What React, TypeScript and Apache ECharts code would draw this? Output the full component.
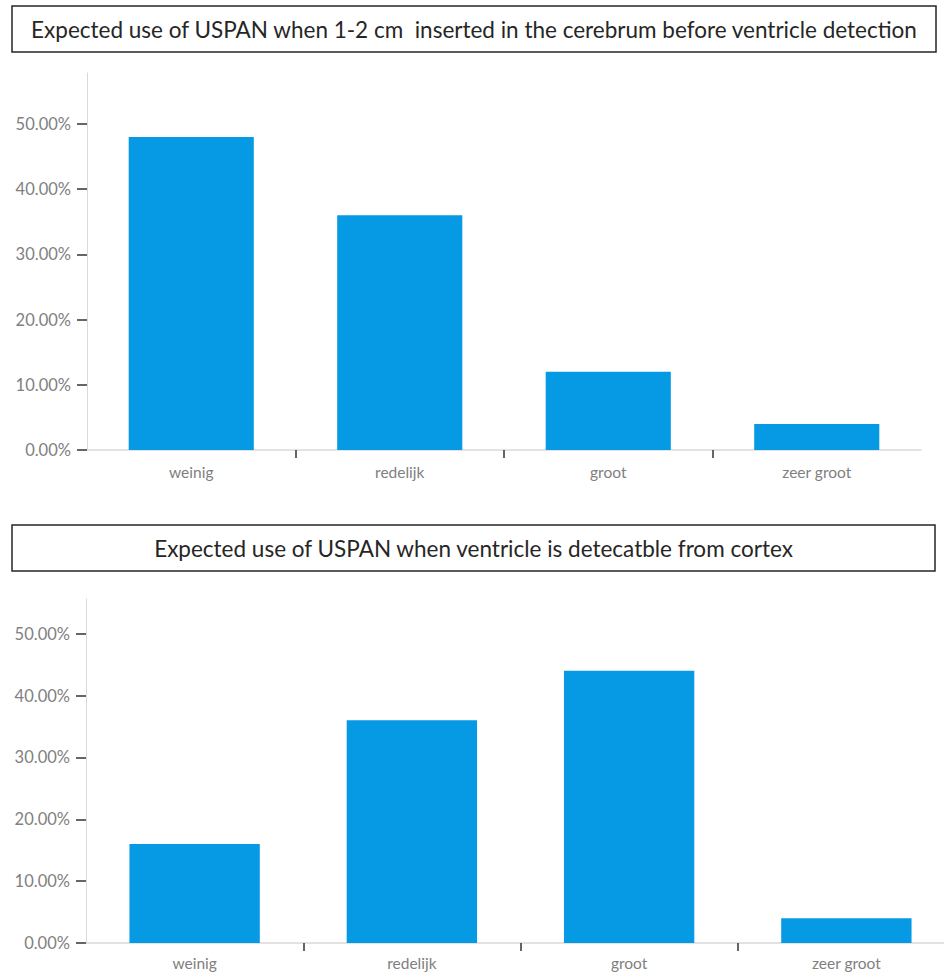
import React, { useEffect, useRef } from "react";
import * as echarts from "echarts";

// Categories and percentages for both survey questions
const categories = ["weinig", "redelijk", "groot", "zeer groot"];
const insertedValues = [48, 36, 12, 4];
const detectableValues = [16, 36, 44, 4];
const yTicks = [0, 10, 20, 30, 40, 50];
const titleTop = "Expected use of USPAN when 1-2 cm  inserted in the cerebrum before ventricle detection";
const titleBottom = "Expected use of USPAN when ventricle is detecatble from cortex";

const BAR_COLOR = "#059ae3";
const LABEL_COLOR = "#808080";
const AXIS_LINE = "#d9d9d9";
const TICK_COLOR = "#333333";
const FONT = "Lato, 'Noto Sans', sans-serif";

function yAxisFor(gridIndex: number, max: number) {
  return {
    type: "value",
    gridIndex,
    min: 0,
    max,
    interval: 10,
    axisLine: { show: true, lineStyle: { color: AXIS_LINE, width: 1 } },
    axisTick: { show: true, length: 10, customValues: yTicks, lineStyle: { color: TICK_COLOR, width: 1.5 } },
    axisLabel: {
      customValues: yTicks,
      margin: 16,
      color: LABEL_COLOR,
      fontFamily: FONT,
      fontSize: 16.5,
      formatter: (v: number) => v.toFixed(2) + "%",
    },
    splitLine: { show: false },
  };
}

function categoryAxisFor(gridIndex: number, margin: number) {
  return {
    type: "category",
    gridIndex,
    data: categories,
    axisLine: { show: true, lineStyle: { color: AXIS_LINE, width: 1.5 } },
    axisTick: { show: false },
    axisLabel: { margin, color: LABEL_COLOR, fontFamily: FONT, fontSize: 15.5 },
  };
}

// Boundary ticks between categories only (no tick at either end)
function boundaryAxisFor(gridIndex: number) {
  return {
    type: "value",
    gridIndex,
    position: "bottom",
    min: 0,
    max: categories.length,
    axisLine: { show: false },
    axisTick: {
      show: true,
      length: 8,
      customValues: categories.slice(1).map((_, i) => i + 1),
      lineStyle: { color: TICK_COLOR, width: 1.5 },
    },
    axisLabel: { show: false },
    splitLine: { show: false },
  };
}

function titleBox(y: number, width: number, text: string) {
  return {
    type: "group",
    children: [
      {
        type: "rect",
        shape: { x: 12, y, width, height: 46 },
        style: { fill: "#ffffff", stroke: "#262626", lineWidth: 1.5 },
      },
      {
        type: "text",
        x: 12 + width / 2,
        y: y + 23,
        style: {
          text,
          fill: "#262626",
          font: `22.5px ${FONT}`,
          align: "center",
          verticalAlign: "middle",
        },
      },
    ],
  };
}

export default function App() {
  const ref = useRef<HTMLDivElement>(null);

  useEffect(() => {
    if (!ref.current) return;
    const chart = echarts.init(ref.current, undefined, { renderer: "svg" });
    chart.setOption({
      animation: false,
      backgroundColor: "#ffffff",
      grid: [
        { left: 87, top: 73, width: 834, height: 377 },
        { left: 86, top: 599, width: 869, height: 344 },
      ],
      xAxis: [categoryAxisFor(0, 14), categoryAxisFor(1, 12), boundaryAxisFor(0), boundaryAxisFor(1)],
      yAxis: [yAxisFor(0, 57.8), yAxisFor(1, 55.6)],
      series: [
        {
          type: "bar",
          xAxisIndex: 0,
          yAxisIndex: 0,
          data: insertedValues,
          barWidth: "60%",
          itemStyle: { color: BAR_COLOR },
        },
        {
          type: "bar",
          xAxisIndex: 1,
          yAxisIndex: 1,
          data: detectableValues,
          barWidth: "60%",
          itemStyle: { color: BAR_COLOR },
        },
      ],
      graphic: [titleBox(6, 924, titleTop), titleBox(525, 923, titleBottom)],
    });
    return () => chart.dispose();
  }, []);

  return (
    <div
      style={{ position: "absolute", left: 0, top: 0, width: 944, height: 976, overflow: "hidden", background: "#fff" }}
    >
      <div ref={ref} style={{ width: 980, height: 976 }} />
    </div>
  );
}
